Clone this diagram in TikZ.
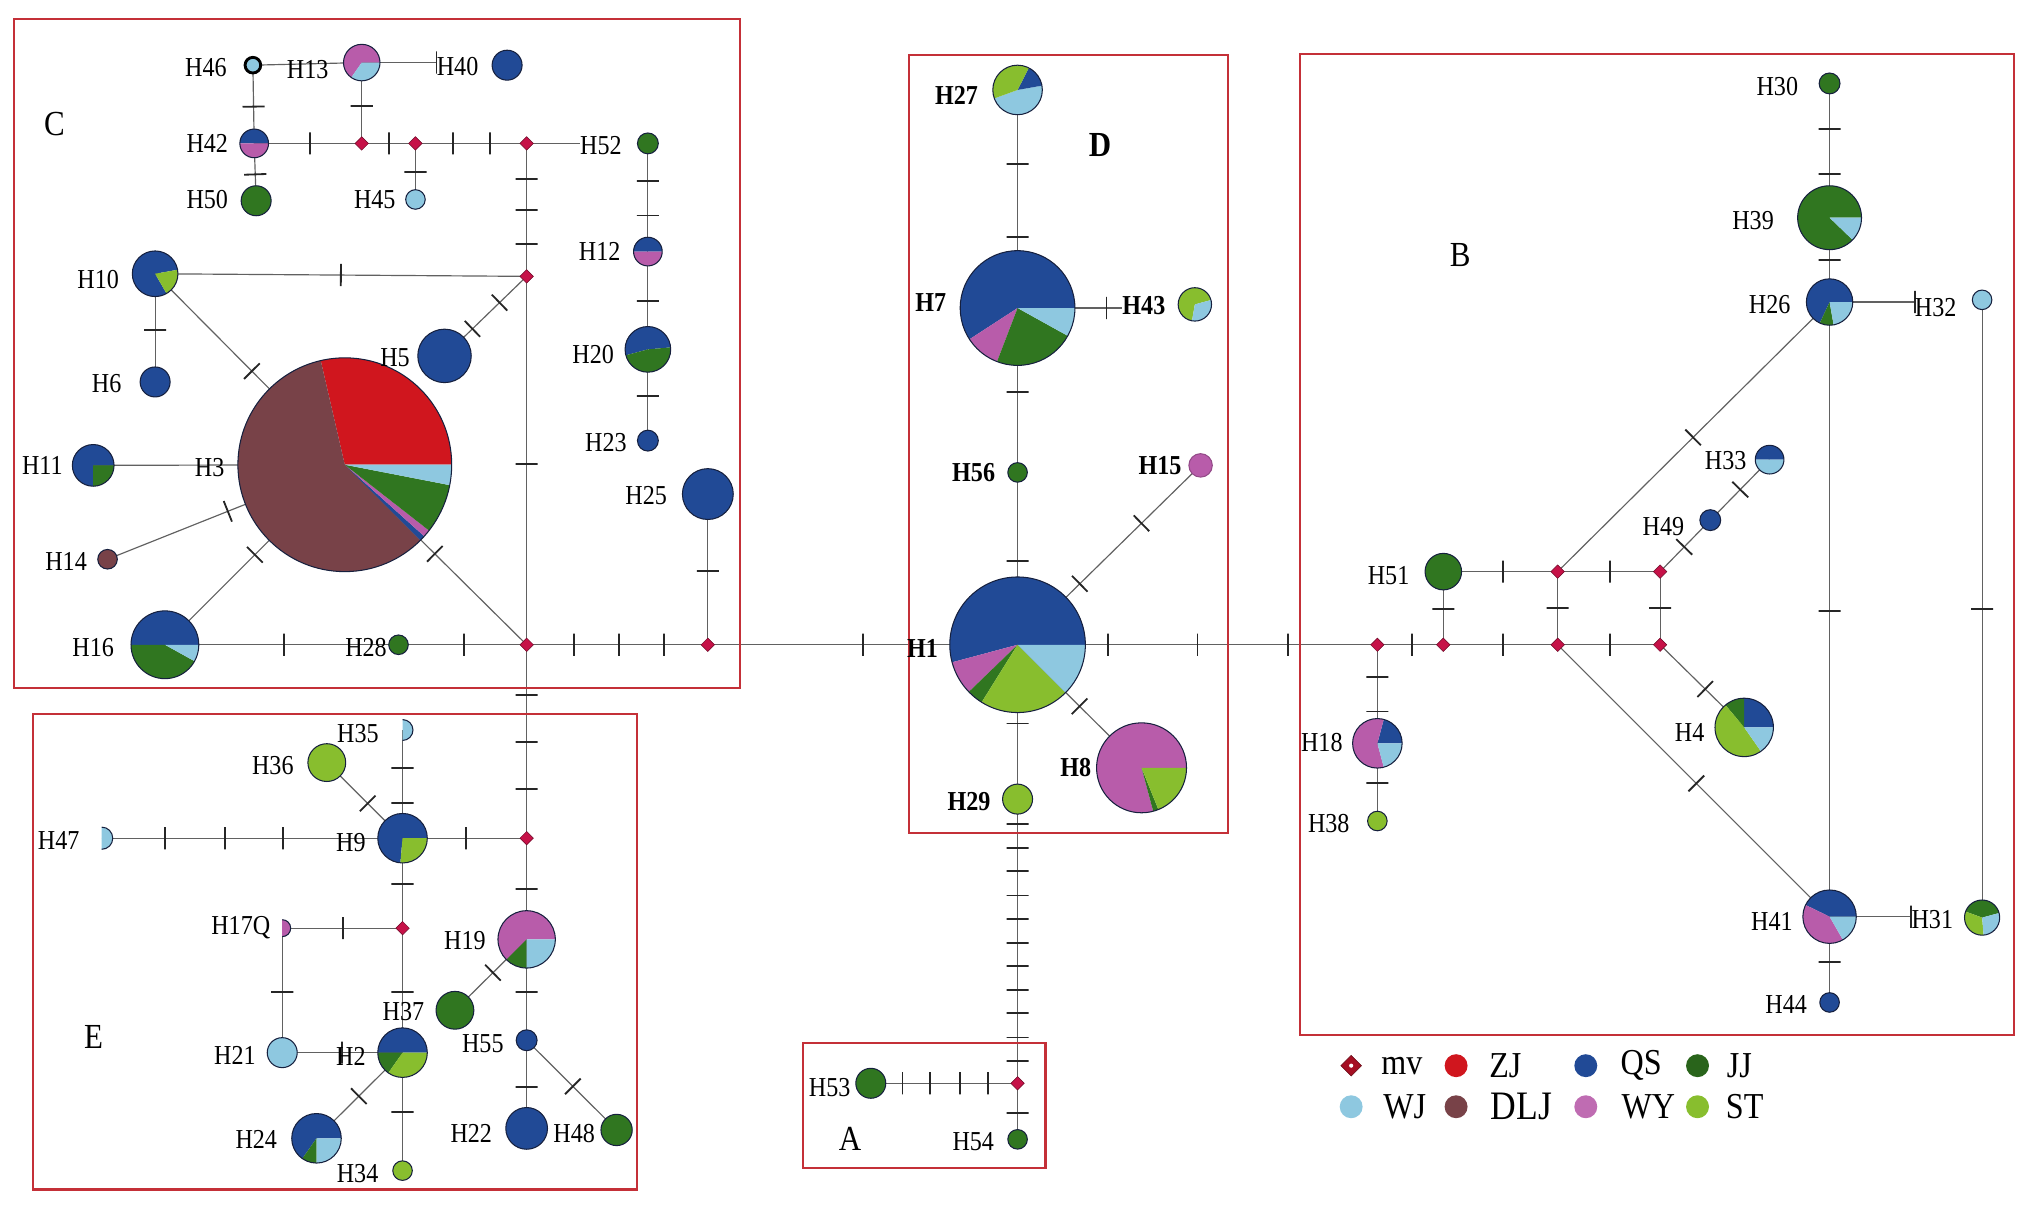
\documentclass[tikz,border=0pt]{standalone}
\usepackage{fontspec}
\setmainfont{Liberation Serif}[FakeStretch=0.88]
\usetikzlibrary{shapes.geometric,backgrounds}
\definecolor{ZJ}{RGB}{208,22,30}
\definecolor{QS}{RGB}{33,74,150}
\definecolor{JJ}{RGB}{48,118,32}
\definecolor{WJ}{RGB}{142,200,224}
\definecolor{DLJ}{RGB}{120,66,72}
\definecolor{WY}{RGB}{184,92,170}
\definecolor{ST}{RGB}{136,190,46}
\definecolor{MV}{RGB}{198,18,72}
\definecolor{MVL}{RGB}{165,15,35}
\definecolor{BOX}{RGB}{196,48,56}
\definecolor{OUT}{RGB}{22,32,62}
\tikzset{
  hapc/.style={circle, draw=OUT, line width=0.8pt, inner sep=0pt},
  mvn/.style={diamond, fill=MV, draw=MV!55!black, line width=0.4pt, inner sep=0pt, minimum size=10.5pt},
  lab/.style={inner sep=0pt, font=\fontsize{21}{24}\selectfont},
  labb/.style={inner sep=0pt, font=\fontsize{21}{24}\selectfont\bfseries},
  conn/.style={draw=black!62, line width=0.9pt},
  tk/.style={sloped, rectangle, draw=black!85, line width=1.4pt, inner sep=0pt, minimum width=0pt, minimum height=17pt},
  boxr/.style={draw=BOX, line width=1.6pt},
  reg/.style={inner sep=0pt, font=\fontsize{27}{30}\selectfont},
  leg/.style={inner sep=0pt, font=\fontsize{28}{30}\selectfont},
  legc/.style={circle, inner sep=0pt, minimum size=17.6pt},
}
\newcommand\hap[6][]{%
  \foreach \wc/\wa/\wb in {#6}{%
    \fill[\wc] (#3,#4) -- ++(-\wa:#5) arc[start angle=-\wa, end angle=-\wb, radius=#5] -- cycle;}
  \node[hapc, minimum size=2*#5pt, #1] (#2) at (#3,#4) {};}
\newcommand\halfhap[5]{%
  \fill[#5] (#2,#3) -- ++(90:#4) arc[start angle=90, end angle=-90, radius=#4] -- cycle;
  \draw[OUT, line width=0.8pt] (#2,#3) ++(90:#4) arc[start angle=90, end angle=-90, radius=#4];
  \node[circle, inner sep=0pt, minimum size=2*#4pt] (#1) at (#2,#3) {};}
\begin{document}
\begin{tikzpicture}[x=1pt,y=-1pt]
\useasboundingbox (0,0) rectangle (1568,927);
% group boxes
\draw[boxr] (10.5,14.5) rectangle (568,528);
\draw[boxr] (697,42) rectangle (942,639);
\draw[boxr] (997.5,41.7) rectangle (1545,793.8);
\draw[boxr] (25.6,547.7) rectangle (489,912.5);
\draw[boxr] (616.2,800.4) rectangle (802,896.2);
% region letters
\node[reg] (rC) at (41.7,95.4) {C};
\node[reg, font=\fontsize{27}{30}\selectfont\bfseries] (rD) at (843.8,111) {D};
\node[reg] (rB) at (1120.2,195.8) {B};
\node[reg] (rE) at (71.8,795.2) {E};
\node[reg] (rA) at (652,874) {A};
% ---------------- C
\node[circle, draw=black, line width=2.2pt, fill=WJ, minimum size=12pt, inner sep=0pt] (H46) at (194,50) {};
\hap{H13}{277.5}{48}{14}{WY/0/235,WJ/235/360}
\hap{H40}{389}{50}{11.5}{QS/0/360}
\hap{H42}{195}{110}{11}{QS/0/180,WY/180/360}
\hap{H50}{196.5}{154}{11.5}{JJ/0/360}
\hap{H45}{318.7}{153}{7.5}{WJ/0/360}
\hap{H52}{497}{110}{8}{JJ/0/360}
\hap{H12}{497}{193}{11}{QS/0/180,WY/180/360}
\hap{H20}{497}{268}{17.5}{QS/5/195,JJ/195/365}
\hap{H23}{497}{338}{8}{QS/0/360}
\hap{H25}{543}{379}{19.5}{QS/0/360}
\hap{H10}{119}{210}{17.5}{QS/10/300,ST/300/370}
\hap{H6}{119}{293}{11.5}{QS/0/360}
\hap{H5}{341}{273}{20.5}{QS/0/360}
\hap{H3}{264.5}{356.5}{82}{ZJ/0/103,DLJ/103/315,QS/315/318,WY/318/322,JJ/322/349,WJ/349/360}
\hap{H11}{71.5}{357}{16}{QS/0/270,JJ/270/360}
\hap{H14}{82.5}{429}{7.5}{DLJ/0/360}
\hap{H16}{126.5}{494.6}{26}{QS/0/180,JJ/180/331,WJ/331/360}
\hap{H28}{305.7}{494.6}{7.5}{JJ/0/360}
\node[mvn] (mC1) at (277.5,110) {};
\node[mvn] (mC2) at (318.7,110) {};
\node[mvn] (mC3) at (404,110) {};
\node[mvn] (mC4) at (404,212) {};
\node[mvn] (mC5) at (404,494.6) {};
\node[mvn] (mC6) at (543,494.6) {};
\node[lab] (lH46) at (158,52) {H46};
\node[lab] (lH13) at (236,53) {H13};
\node[lab] (lH40) at (351,51) {H40};
\node[lab] (lH42) at (159,110) {H42};
\node[lab] (lH50) at (159,153) {H50};
\node[lab] (lH45) at (287.5,153) {H45};
\node[lab] (lH52) at (461,112) {H52};
\node[lab] (lH12) at (460,193) {H12};
\node[lab] (lH20) at (455,271.7) {H20};
\node[lab] (lH23) at (464.8,339.6) {H23};
\node[lab] (lH25) at (495.7,380) {H25};
\node[lab] (lH10) at (75.3,214.4) {H10};
\node[lab] (lH6) at (81.8,294) {H6};
\node[lab] (lH5) at (303,274.4) {H5};
\node[lab] (lH11) at (32.5,356.8) {H11};
\node[lab] (lH3) at (160.8,358.5) {H3};
\node[lab] (lH14) at (50.7,430.5) {H14};
\node[lab] (lH16) at (71.5,496.4) {H16};
\node[lab] (lH28) at (280.8,496.4) {H28};
% ---------------- E
\node[mvn] (mE1) at (404,643) {};
\node[mvn] (mE2) at (308.8,712) {};
\halfhap{H35}{308.8}{560}{8}{WJ}
\hap{H36}{250.7}{585}{14.5}{ST/0/360}
\halfhap{H47}{78}{643}{8.5}{WJ}
\hap{H9}{308.8}{643}{19}{QS/0/265,ST/265/360}
\halfhap{H17Q}{216.5}{712}{6.5}{WY}
\hap{H19}{404}{720.6}{22}{WY/0/225,JJ/225/270,WJ/270/360}
\hap{H37}{349}{775}{14.5}{JJ/0/360}
\hap{H55}{404}{798}{8}{QS/0/360}
\hap{H22}{404}{865.6}{16}{QS/0/360}
\hap{H48}{473}{866.8}{12}{JJ/0/360}
\hap{H21}{216.5}{807.5}{11.5}{WJ/0/360}
\hap{H2}{308.8}{807.5}{19}{QS/0/180,JJ/180/235,ST/235/360}
\hap{H24}{242.8}{873.2}{19}{QS/0/235,JJ/235/270,WJ/270/360}
\hap{H34}{308.8}{898}{7.5}{ST/0/360}
\node[lab] (lH35) at (274.6,562.6) {H35};
\node[lab] (lH36) at (209.3,587.6) {H36};
\node[lab] (lH47) at (45,645) {H47};
\node[lab] (lH9) at (269.2,646.4) {H9};
\node[lab] (lH17Q) at (184.7,711.6) {H17Q};
\node[lab] (lH19) at (356.7,721.9) {H19};
\node[lab] (lH37) at (309.5,776) {H37};
\node[lab] (lH55) at (370.4,800.4) {H55};
\node[lab] (lH21) at (180.2,809.3) {H21};
\node[lab] (lH2) at (269.2,810.6) {H2};
\node[lab] (lH24) at (196.6,874) {H24};
\node[lab] (lH22) at (361.5,869.4) {H22};
\node[lab] (lH48) at (440.5,869.4) {H48};
\node[lab] (lH34) at (274.3,900) {H34};
% ---------------- D and A
\hap{H27}{780.6}{69}{19}{WJ/200/370,QS/10/63,ST/63/200}
\hap{H7}{780.6}{236.3}{44}{QS/0/213,WY/213/249,JJ/249/331,WJ/331/360}
\hap{H43}{916.6}{233.5}{12.8}{ST/15/260,WJ/260/375}
\hap{H56}{780.6}{362.4}{7.5}{JJ/0/360}
\hap[draw=WY!80!black]{H15}{921}{357}{9}{WY/0/360}
\hap{H1}{780.6}{494.6}{52}{QS/0/195,WY/195/224,JJ/224/238,ST/238/315,WJ/315/360}
\hap{H8}{875.7}{589}{34.5}{WY/0/285,JJ/285/292,ST/292/360}
\hap{H29}{780.6}{613}{11.5}{ST/0/360}
\node[mvn] (mA) at (780.6,831) {};
\hap{H53}{668}{831}{11.5}{JJ/0/360}
\hap{H54}{780.6}{874}{7.5}{JJ/0/360}
\node[labb] (lH27) at (733.8,72.9) {H27};
\node[labb] (lH7) at (714,232.3) {H7};
\node[labb] (lH43) at (877.5,234.3) {H43};
\node[labb] (lH56) at (746.9,362.4) {H56};
\node[labb] (lH15) at (889.8,356.8) {H15};
\node[labb] (lH1) at (707.7,497.4) {H1};
\node[labb] (lH8) at (825.3,589) {H8};
\node[labb] (lH29) at (743.3,615) {H29};
\node[lab] (lH53) at (636.4,834.1) {H53};
\node[lab] (lH54) at (746.6,875.8) {H54};
% ---------------- B
\node[mvn] (mB1) at (1056.6,494.6) {};
\node[mvn] (mB2) at (1107.2,494.6) {};
\node[mvn] (mB3) at (1194.9,494.6) {};
\node[mvn] (mB4) at (1273.5,494.6) {};
\node[mvn] (mB5) at (1194.9,438.5) {};
\node[mvn] (mB6) at (1273.5,438.5) {};
\hap{H51}{1107.2}{438.5}{14}{JJ/0/360}
\hap{H18}{1056.6}{570.2}{19}{QS/0/75,WY/75/285,WJ/285/360}
\hap{H38}{1056.6}{629.8}{7.5}{ST/0/360}
\hap{H4}{1338}{558}{22.4}{QS/0/90,JJ/90/130,ST/130/305,WJ/305/360}
\hap{H30}{1403.5}{64}{8}{JJ/0/360}
\hap{H39}{1403.5}{167}{24.5}{JJ/0/316,WJ/316/360}
\hap{H26}{1403.5}{231.7}{17.8}{QS/0/245,JJ/245/280,WJ/280/360}
\hap{H32}{1520.5}{230}{7.5}{WJ/0/360}
\hap{H33}{1357.5}{352.6}{11}{QS/0/180,WJ/180/360}
\hap{H49}{1312}{399}{8}{QS/0/360}
\hap{H41}{1403.5}{703.2}{20.5}{QS/0/154,WY/154/300,WJ/300/360}
\hap{H31}{1520.5}{703.9}{13.5}{JJ/15/160,ST/160/275,WJ/275/375}
\hap{H44}{1403.5}{769}{7.5}{QS/0/360}
\node[lab] (lH30) at (1363.4,66.7) {H30};
\node[lab] (lH39) at (1344.8,169.4) {H39};
\node[lab] (lH26) at (1357.5,233.4) {H26};
\node[lab] (lH32) at (1484.9,236.2) {H32};
\node[lab] (lH33) at (1323.8,353.3) {H33};
\node[lab] (lH49) at (1276,404) {H49};
\node[lab] (lH51) at (1065.2,441.7) {H51};
\node[lab] (lH18) at (1014,569.7) {H18};
\node[lab] (lH38) at (1019.3,632.1) {H38};
\node[lab] (lH4) at (1296.2,562) {H4};
\node[lab] (lH41) at (1359.3,707) {H41};
\node[lab] (lH31) at (1482.3,705.2) {H31};
\node[lab] (lH44) at (1370.2,770.9) {H44};
% ---------------- legend
\node[mvn, fill=MVL, draw=MVL!60!black, minimum size=16pt] (gmv) at (1036.5,817.5) {};
\fill[white] (gmv.center) circle (1.6);
\node[leg] (tmv) at (1075.4,817.5) {mv};
\node[legc, fill=ZJ] (gZJ) at (1117,817.5) {};
\node[leg] (tZJ) at (1154.8,817.5) {ZJ};
\node[legc, fill=QS] (gQS) at (1216.5,817.5) {};
\node[leg] (tQS) at (1259,817.5) {QS};
\node[legc, fill=JJ!85!black] (gJJ) at (1302.2,817.5) {};
\node[leg] (tJJ) at (1334.3,817.5) {JJ};
\node[legc, fill=WJ] (gWJ) at (1036.5,849) {};
\node[leg] (tWJ) at (1077.6,849) {WJ};
\node[legc, fill=DLJ] (gDLJ) at (1117,849) {};
\node[leg, font=\fontsize{31}{33}\selectfont] (tDLJ) at (1167.2,849) {DLJ};
\node[legc, fill=WY!90!white] (gWY) at (1216.5,849) {};
\node[leg] (tWY) at (1264.4,849) {WY};
\node[legc, fill=ST] (gST) at (1302.2,849) {};
\node[leg] (tST) at (1338.4,849) {ST};
% ---------------- connectors
\begin{pgfonlayer}{background}
% C
\draw[conn] (H46.center) -- (H13.center);
\draw[conn] (H13.center) -- (H13.center -| lH40.west) node[tk,pos=1]{};
\draw[conn] (H46.center) -- (H42.center) node[tk,pos=.53]{};
\draw[conn] (H42.center) -- (H50.center) node[tk,pos=.54]{};
\draw[conn] (H42.center) -- (mC1.center) node[tk,pos=.52]{};
\draw[conn] (mC1.center) -- (H13.center) node[tk,pos=.46]{};
\draw[conn] (mC1.center) -- (mC2.center) node[tk,pos=.5]{};
\draw[conn] (mC2.center) -- (H45.center) node[tk,pos=.51]{};
\draw[conn] (mC2.center) -- (mC3.center) node[tk,pos=.34]{} node[tk,pos=.667]{};
\draw[conn] (mC3.center) -- (mC3.center -| lH52.west);
\draw[conn] (H52.center) -- (H12.center) node[tk,pos=.35]{} node[tk,pos=.667]{};
\draw[conn] (H12.center) -- (H20.center) node[tk,pos=.505]{};
\draw[conn] (H20.center) -- (H23.center) node[tk,pos=.51]{};
\draw[conn] (mC3.center) -- (mC4.center) node[tk,pos=.265]{} node[tk,pos=.5]{} node[tk,pos=.755]{};
\draw[conn] (H10.center) -- (mC4.center) node[tk,pos=.5]{};
\draw[conn] (H10.center) -- (H6.center) node[tk,pos=.52]{};
\draw[conn] (H10.center) -- (H3.center) node[tk,pos=.51]{};
\draw[conn] (mC4.center) -- (H5.center) node[tk,pos=.33]{} node[tk,pos=.66]{};
\draw[conn] (mC4.center) -- (mC5.center) node[tk,pos=.51]{};
\draw[conn] (H11.center) -- (H3.center);
\draw[conn] (H14.center) -- (H3.center) node[tk,pos=.507]{};
\draw[conn] (H16.center) -- (H3.center) node[tk,pos=.5]{};
\draw[conn] (H3.center) -- (mC5.center) node[tk,pos=.495]{};
\draw[conn] (H16.center) -- (H28.center) node[tk,pos=.51]{};
\draw[conn] (H28.center) -- (mC5.center) node[tk,pos=.51]{};
\draw[conn] (mC5.center) -- (mC6.center) node[tk,pos=.26]{} node[tk,pos=.51]{} node[tk,pos=.76]{};
\draw[conn] (mC6.center) -- (H25.center) node[tk,pos=.49]{};
\draw[conn] (mC6.center) -- (H1.center) node[tk,pos=.5]{};
% E
\draw[conn] (mC5.center) -- (mE1.center) node[tk,pos=.258]{} node[tk,pos=.504]{} node[tk,pos=.747]{};
\draw[conn] (H35.center) -- (H9.center) node[tk,pos=.354]{} node[tk,pos=.672]{};
\draw[conn] (H36.center) -- (H9.center) node[tk,pos=.54]{};
\draw[conn] (H47.center) -- (H9.center) node[tk,pos=.21]{} node[tk,pos=.41]{} node[tk,pos=.603]{};
\draw[conn] (H9.center) -- (mE1.center) node[tk,pos=.51]{};
\draw[conn] (H9.center) -- (mE2.center) node[tk,pos=.51]{};
\draw[conn] (mE2.center) -- (H17Q.center) node[tk,pos=.493]{};
\draw[conn] (H17Q.center) -- (H21.center) node[tk,pos=.51]{};
\draw[conn] (H21.center) -- (H2.center) node[tk,pos=.5]{};
\draw[conn] (mE2.center) -- (H2.center) node[tk,pos=.513]{};
\draw[conn] (H2.center) -- (H24.center) node[tk,pos=.508]{};
\draw[conn] (H2.center) -- (H34.center) node[tk,pos=.506]{};
\draw[conn] (mE1.center) -- (H19.center) node[tk,pos=.5]{};
\draw[conn] (H19.center) -- (H37.center) node[tk,pos=.47]{};
\draw[conn] (H19.center) -- (H55.center) node[tk,pos=.52]{};
\draw[conn] (H55.center) -- (H22.center) node[tk,pos=.527]{};
\draw[conn] (H55.center) -- (H48.center) node[tk,pos=.514]{};
% D and A
\draw[conn] (H27.center) -- (H7.center) node[tk,pos=.34]{} node[tk,pos=.675]{};
\draw[conn] (H7.center) -- (H7.center -| lH43.west) node[tk,pos=.85]{};
\draw[conn] (H7.center) -- (H56.center) node[tk,pos=.51]{};
\draw[conn] (H56.center) -- (H1.center) node[tk,pos=.514]{};
\draw[conn] (H1.center) -- (H15.center) node[tk,pos=.34]{} node[tk,pos=.677]{};
\draw[conn] (H1.center) -- (H8.center) node[tk,pos=.5]{};
\draw[conn] (H1.center) -- (H29.center) node[tk,pos=.51]{};
\draw[conn] (H29.center) -- (mA.center)
  node[tk,pos=.088]{} node[tk,pos=.171]{} node[tk,pos=.254]{} node[tk,pos=.339]{}
  node[tk,pos=.421]{} node[tk,pos=.505]{} node[tk,pos=.587]{} node[tk,pos=.672]{}
  node[tk,pos=.754]{} node[tk,pos=.839]{} node[tk,pos=.922]{};
\draw[conn] (H53.center) -- (mA.center) node[tk,pos=.216]{} node[tk,pos=.406]{} node[tk,pos=.605]{} node[tk,pos=.797]{};
\draw[conn] (mA.center) -- (H54.center) node[tk,pos=.523]{};
\draw[conn] (H1.center) -- (mB1.center) node[tk,pos=.252]{} node[tk,pos=.5]{} node[tk,pos=.751]{};
% B
\draw[conn] (mB1.center) -- (mB2.center) node[tk,pos=.53]{};
\draw[conn] (mB1.center) -- (H18.center) node[tk,pos=.33]{} node[tk,pos=.678]{};
\draw[conn] (H18.center) -- (H38.center) node[tk,pos=.507]{};
\draw[conn] (mB2.center) -- (H51.center) node[tk,pos=.49]{};
\draw[conn] (mB2.center) -- (mB3.center) node[tk,pos=.522]{};
\draw[conn] (H51.center) -- (mB5.center) node[tk,pos=.52]{};
\draw[conn] (mB5.center) -- (mB3.center) node[tk,pos=.5]{};
\draw[conn] (mB5.center) -- (mB6.center) node[tk,pos=.51]{};
\draw[conn] (mB6.center) -- (mB4.center) node[tk,pos=.5]{};
\draw[conn] (mB3.center) -- (mB4.center) node[tk,pos=.514]{};
\draw[conn] (mB6.center) -- (H49.center) node[tk,pos=.48]{};
\draw[conn] (H49.center) -- (H33.center) node[tk,pos=.505]{};
\draw[conn] (mB5.center) -- (H26.center) node[tk,pos=.498]{};
\draw[conn] (mB4.center) -- (H4.center) node[tk,pos=.536]{};
\draw[conn] (mB3.center) -- (H41.center) node[tk,pos=.51]{};
\draw[conn] (H30.center) -- (H39.center) node[tk,pos=.342]{} node[tk,pos=.674]{};
\draw[conn] (H39.center) -- (H26.center) node[tk,pos=.5]{};
\draw[conn] (H26.center) -- (H26.center -| lH32.west) node[tk,pos=1]{};
\draw[conn] (H26.center) -- (H41.center) node[tk,pos=.502]{};
\draw[conn] (H32.center) -- (H31.center) node[tk,pos=.5]{};
\draw[conn] (H41.center) -- (H41.center -| lH31.west) node[tk,pos=1]{};
\draw[conn] (H41.center) -- (H44.center) node[tk,pos=.524]{};
\end{pgfonlayer}
\end{tikzpicture}
\end{document}
